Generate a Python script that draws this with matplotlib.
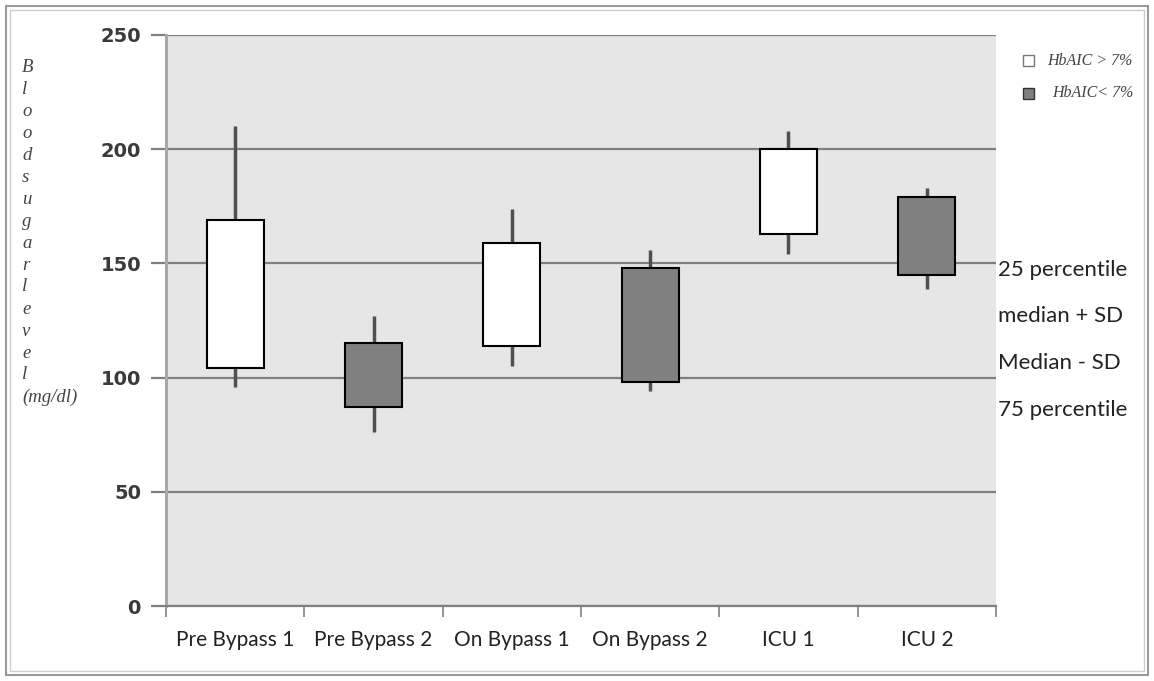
import numpy as np
import matplotlib
matplotlib.use('Agg')
import matplotlib.pyplot as plt
from matplotlib.patches import Rectangle

# 데이터
categories = ['Pre Bypass 1', 'Pre Bypass 2', 'On Bypass 1', 'On Bypass 2', 'ICU 1', 'ICU 2']
whisker_high = [210, 127, 174, 156, 208, 183]
box_high = [169, 115, 159, 148, 200, 179]
box_low = [104, 87, 114, 98, 163, 145]
whisker_low = [96, 76, 105, 94, 154, 139]
box_colors = ['white', '#808080', 'white', '#808080', 'white', '#808080']
ylabel_letters = ['B', 'l', 'o', 'o', 'd', 's', 'u', 'g', 'a', 'r', 'l', 'e', 'v', 'e', 'l', '(mg/dl)']
side_notes = ['25 percentile', 'median + SD', 'Median - SD', '75 percentile']

fig = plt.figure(figsize=(11.54, 6.81), dpi=100)
ax = fig.add_axes([166 / 1154, 75 / 681, 830 / 1154, 571 / 681])
ax.set_facecolor('#e6e6e6')

x = np.arange(len(categories))
# 수염
ax.vlines(x, whisker_low, whisker_high, colors='#505050', linewidth=2.5, zorder=2)
# 박스
heights = np.array(box_high) - np.array(box_low)
ax.bar(x, heights, bottom=box_low, width=0.41, color=box_colors,
       edgecolor='black', linewidth=1.5, zorder=3)

ax.set_xlim(-0.5, len(categories) - 0.5)
ax.set_ylim(0, 250)
ax.set_yticks([0, 50, 100, 150, 200, 250])
ax.yaxis.grid(True, color='#808080', linewidth=1.6, zorder=1)
ax.set_axisbelow(True)
ax.tick_params(axis='y', length=11, width=1.6, color='#808080', labelsize=14, pad=7)
for lab in ax.get_yticklabels():
    lab.set_fontweight('semibold')
    lab.set_color('#3a3a3a')

# x축 눈금: 경계에 눈금, 가운데에 라벨
ax.set_xticks(np.arange(-0.5, len(categories)), minor=False)
ax.set_xticklabels([])
ax.set_xticks(x, minor=True)
ax.set_xticklabels(categories, minor=True, fontsize=15, family='Lato', color='#222222')
ax.tick_params(axis='x', which='major', length=8, width=1.2, color='#808080')
ax.tick_params(axis='x', which='minor', length=0, pad=17)

for s in ['top', 'right']:
    ax.spines[s].set_visible(False)
ax.spines['left'].set_color('#a8a8a8')
ax.spines['left'].set_linewidth(2.2)
ax.spines['bottom'].set_color('#808080')
ax.spines['bottom'].set_linewidth(1.6)

# 세로로 쌓은 y축 라벨
for i, letter in enumerate(ylabel_letters):
    fig.text(22 / 1154, 1 - (67 + i * 22) / 681, letter, family='Liberation Serif',
             style='italic', fontsize=13.5, color='#444444', ha='left', va='center')

# 오른쪽 설명
for i, note in enumerate(side_notes):
    fig.text(998 / 1154, 1 - (270 + i * 46.5) / 681, note, fontsize=16,
             family='Lato', color='#222222', ha='left', va='center')

# 범례
fig.patches.append(Rectangle((1023 / 1154, 1 - 66 / 681), 11 / 1154, 11 / 681,
                             transform=fig.transFigure, facecolor='white',
                             edgecolor='#777777', linewidth=1))
fig.text(1047 / 1154, 1 - 61 / 681, 'HbAIC > 7%', family='Liberation Serif', style='italic',
         fontsize=11.5, color='#444444', va='center')
fig.patches.append(Rectangle((1023 / 1154, 1 - 99 / 681), 11 / 1154, 11 / 681,
                             transform=fig.transFigure, facecolor='#808080',
                             edgecolor='#333333', linewidth=1))
fig.text(1052 / 1154, 1 - 93 / 681, 'HbAIC< 7%', family='Liberation Serif', style='italic',
         fontsize=11.5, color='#444444', va='center')

# 바깥 테두리
fig.patches.append(Rectangle((6 / 1154, 6 / 681), 1142 / 1154, 669 / 681,
                             transform=fig.transFigure, fill=False,
                             edgecolor='#999999', linewidth=1.5))
fig.patches.append(Rectangle((10 / 1154, 10 / 681), 1134 / 1154, 661 / 681,
                             transform=fig.transFigure, fill=False,
                             edgecolor='#cccccc', linewidth=1))

fig.savefig('out.png', dpi=100, facecolor='white')
